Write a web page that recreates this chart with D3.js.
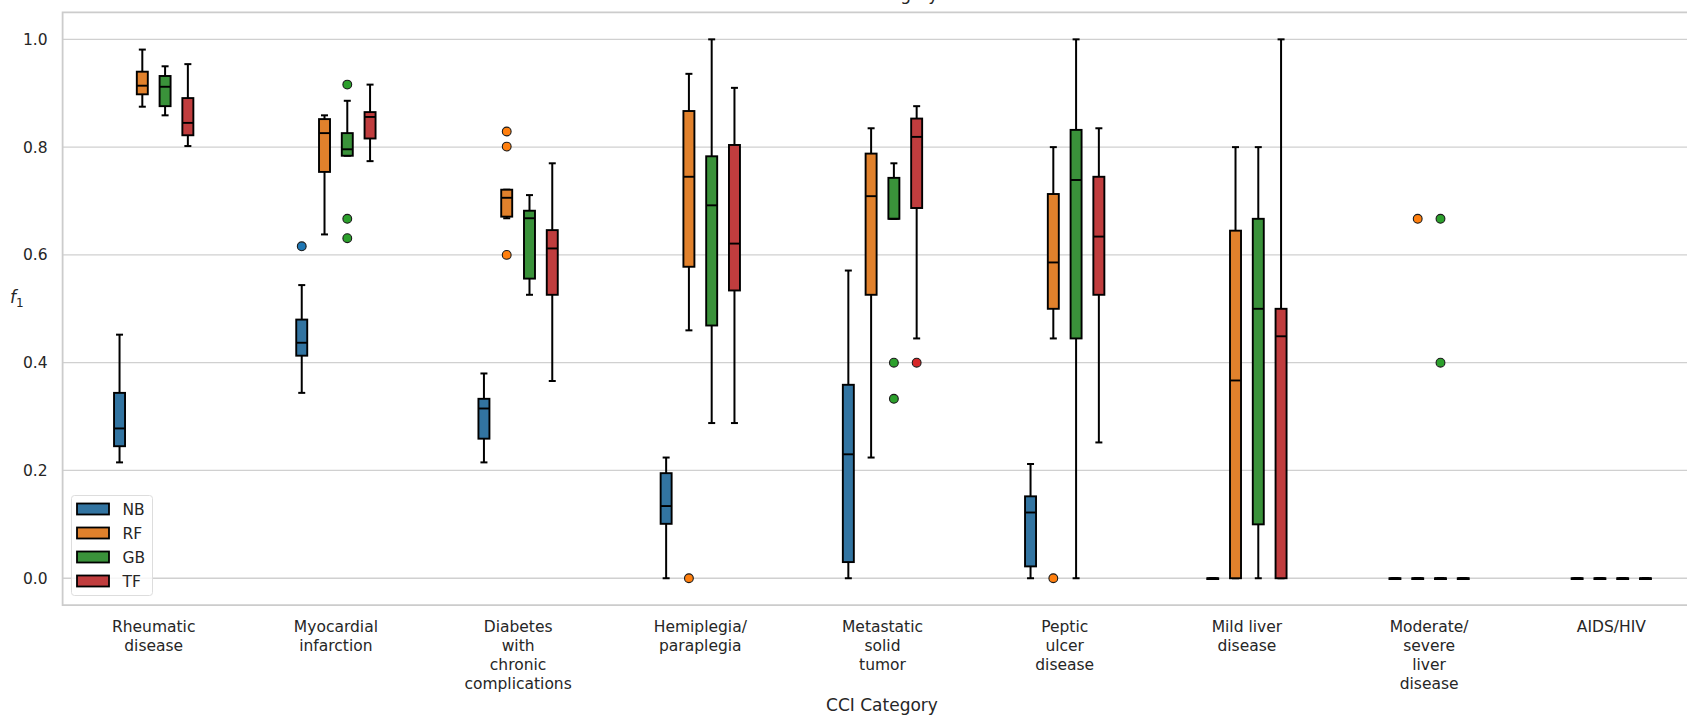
<!DOCTYPE html>
<html>
<head>
<meta charset="utf-8">
<script src="https://cdn.jsdelivr.net/npm/d3@7"></script>
<style>
  body { margin: 0; background: #fff; }
  svg { display: block; font-family: "DejaVu Sans", sans-serif; }
</style>
</head>
<body>
<svg width="1687" height="720"></svg>
<script>
// CCI categories (line breaks as in the original tick labels)
const categories = [
  "Rheumatic\ndisease",
  "Myocardial\ninfarction",
  "Diabetes\nwith\nchronic\ncomplications",
  "Hemiplegia/\nparaplegia",
  "Metastatic\nsolid\ntumor",
  "Peptic\nulcer\ndisease",
  "Mild liver\ndisease",
  "Moderate/\nsevere\nliver\ndisease",
  "AIDS/HIV"
];
const models = ["NB", "RF", "GB", "TF"];
const yTicks = [0.0, 0.2, 0.4, 0.6, 0.8, 1.0];

// box stats per category: [whisker low, q1, median, q3, whisker high]
const nbStats = [
  [0.215, 0.245, 0.278, 0.344, 0.452],
  [0.344, 0.413, 0.437, 0.480, 0.544],
  [0.215, 0.259, 0.315, 0.333, 0.380],
  [0.0, 0.101, 0.134, 0.195, 0.224],
  [0.0, 0.030, 0.230, 0.359, 0.571],
  [0.0, 0.022, 0.122, 0.152, 0.212],
  [0, 0, 0, 0, 0],
  [0, 0, 0, 0, 0],
  [0, 0, 0, 0, 0]
];
const rfStats = [
  [0.875, 0.898, 0.914, 0.940, 0.981],
  [0.638, 0.754, 0.826, 0.852, 0.859],
  [0.668, 0.671, 0.706, 0.721, 0.721],
  [0.460, 0.578, 0.745, 0.867, 0.936],
  [0.224, 0.526, 0.709, 0.788, 0.835],
  [0.445, 0.500, 0.586, 0.713, 0.800],
  [0.0, 0.0, 0.367, 0.645, 0.800],
  [0, 0, 0, 0, 0],
  [0, 0, 0, 0, 0]
];
const gbStats = [
  [0.859, 0.876, 0.912, 0.932, 0.950],
  [0.784, 0.784, 0.796, 0.826, 0.886],
  [0.526, 0.556, 0.668, 0.682, 0.711],
  [0.288, 0.469, 0.692, 0.783, 1.0],
  [0.667, 0.667, 0.667, 0.743, 0.770],
  [0.0, 0.445, 0.739, 0.832, 1.0],
  [0.0, 0.100, 0.500, 0.667, 0.800],
  [0, 0, 0, 0, 0],
  [0, 0, 0, 0, 0]
];
const tfStats = [
  [0.802, 0.822, 0.845, 0.891, 0.954],
  [0.774, 0.816, 0.856, 0.865, 0.916],
  [0.366, 0.526, 0.612, 0.646, 0.770],
  [0.288, 0.534, 0.621, 0.804, 0.910],
  [0.445, 0.687, 0.819, 0.853, 0.876],
  [0.252, 0.526, 0.634, 0.745, 0.835],
  [0.0, 0.0, 0.449, 0.500, 1.0],
  [0, 0, 0, 0, 0],
  [0, 0, 0, 0, 0]
];

// outliers: [category index, value]
const nbFliers = [[1, 0.616]];
const rfFliers = [[2, 0.829], [2, 0.801], [2, 0.600], [3, 0.0], [5, 0.0], [7, 0.667]];
const gbFliers = [[1, 0.916], [1, 0.667], [1, 0.631], [4, 0.4], [4, 0.333], [7, 0.667], [7, 0.4]];
const tfFliers = [[4, 0.4]];

const boxColors = ["#3274a1", "#e1812c", "#3a923a", "#c03d3e"];
const flierColors = ["#1f77b4", "#ff7f0e", "#2ca02c", "#d62728"];
const allStats = [nbStats, rfStats, gbStats, tfStats];
const allFliers = [nbFliers, rfFliers, gbFliers, tfFliers];

let svg = d3.select("svg");

// axes extend past the right edge of the picture (cropped figure)
let x = d3.scaleBand()
  .domain(categories)
  .range([62.6, 1702.4])
  .padding(0);

let y = d3.scaleLinear()
  .domain([-0.05, 1.05])
  .range([605.2, 12.4]);

let slot = x.bandwidth() * 0.125;
let boxW = 11;
let capW = 7;
let plotLeft = 62.6, plotRight = 1702.4;

// grid
svg.append("g")
  .selectAll("line")
  .data(yTicks)
  .enter().append("line")
  .attr("x1", plotLeft).attr("x2", plotRight)
  .attr("y1", d => y(d)).attr("y2", d => y(d))
  .attr("stroke", "#d0d0d0")
  .attr("stroke-width", 1.3);

// spines
let spine = svg.append("g").attr("stroke", "#cccccc").attr("stroke-width", 1.8).attr("fill", "none");
spine.append("path")
  .attr("d", `M${plotRight},${y(1.05)}H${plotLeft}V${y(-0.05)}H${plotRight}`);

// title (mostly cropped at top, as in the source figure)
svg.append("text")
  .attr("x", (plotLeft + plotRight) / 2)
  .attr("y", -0.5)
  .attr("text-anchor", "middle")
  .attr("font-size", 17)
  .attr("fill", "#262626")
  .text("CCI Category");

// y axis
let yAxis = svg.append("g")
  .attr("transform", `translate(${plotLeft},0)`)
  .call(d3.axisLeft(y).tickValues(yTicks).tickFormat(d3.format(".1f")).tickSize(0).tickPadding(15));
yAxis.select(".domain").remove();
yAxis.selectAll("text")
  .attr("font-size", 15.5)
  .attr("font-family", "DejaVu Sans")
  .attr("fill", "#262626");

// x axis with multi-line labels
let xAxis = svg.append("g")
  .attr("transform", `translate(0,${y(-0.05)})`)
  .call(d3.axisBottom(x).tickSize(0).tickFormat(""));
xAxis.select(".domain").remove();
xAxis.selectAll(".tick").each(function (d) {
  let t = d3.select(this).append("text")
    .attr("fill", "#262626")
    .attr("font-size", 15.5)
    .attr("font-family", "DejaVu Sans")
    .attr("text-anchor", "middle");
  d.split("\n").forEach((line, i) => {
    t.append("tspan").attr("x", 0).attr("y", 27 + i * 19).text(line);
  });
});

svg.append("text")
  .attr("x", 882)
  .attr("y", 711)
  .attr("text-anchor", "middle")
  .attr("font-size", 17)
  .attr("fill", "#262626")
  .text("CCI Category");

// y label: italic f with subscript 1
let yl = svg.append("text")
  .attr("x", 10)
  .attr("y", 303)
  .attr("font-size", 17)
  .attr("fill", "#262626");
yl.append("tspan").attr("font-style", "italic").text("f");
yl.append("tspan").attr("font-size", 12).attr("dy", 4).text("1");

// boxes
models.forEach((m, mi) => {
  let g = svg.append("g").attr("class", "model-" + m);
  let cx = (ci) => x(categories[ci]) + x.bandwidth() / 2 + (mi - 1.5) * slot;
  let stats = allStats[mi].map((s, ci) => ({ ci, s }));

  // whiskers
  g.selectAll(".whisk-lo").data(stats).enter().append("line")
    .attr("x1", d => cx(d.ci)).attr("x2", d => cx(d.ci))
    .attr("y1", d => y(d.s[0])).attr("y2", d => y(d.s[1]))
    .attr("stroke", "#000").attr("stroke-width", 2);
  g.selectAll(".whisk-hi").data(stats).enter().append("line")
    .attr("x1", d => cx(d.ci)).attr("x2", d => cx(d.ci))
    .attr("y1", d => y(d.s[3])).attr("y2", d => y(d.s[4]))
    .attr("stroke", "#000").attr("stroke-width", 2);
  // caps
  g.selectAll(".cap").data(stats.flatMap(d => [{ ci: d.ci, v: d.s[0] }, { ci: d.ci, v: d.s[4] }]))
    .enter().append("line")
    .attr("x1", d => cx(d.ci) - capW / 2).attr("x2", d => cx(d.ci) + capW / 2)
    .attr("y1", d => y(d.v)).attr("y2", d => y(d.v))
    .attr("stroke", "#000").attr("stroke-width", 2);

  // box
  g.selectAll("rect").data(stats).enter().append("rect")
    .attr("x", d => cx(d.ci) - boxW / 2)
    .attr("width", boxW)
    .attr("y", d => y(d.s[3]))
    .attr("height", d => Math.max(y(d.s[1]) - y(d.s[3]), 0.8))
    .attr("fill", boxColors[mi])
    .attr("stroke", "#000")
    .attr("stroke-width", 1.9);

  // median
  g.selectAll(".median").data(stats).enter().append("line")
    .attr("x1", d => cx(d.ci) - boxW / 2).attr("x2", d => cx(d.ci) + boxW / 2)
    .attr("y1", d => y(d.s[2])).attr("y2", d => y(d.s[2]))
    .attr("stroke", "#000").attr("stroke-width", 1.9);

  // fliers
  g.selectAll("circle").data(allFliers[mi]).enter().append("circle")
    .attr("cx", d => cx(d[0]))
    .attr("cy", d => y(d[1]))
    .attr("r", 4.4)
    .attr("fill", flierColors[mi])
    .attr("stroke", "#1a1a1a")
    .attr("stroke-width", 1.1);
});

// legend
let legend = svg.append("g").attr("transform", "translate(71.5,495.5)");
legend.append("rect")
  .attr("width", 81).attr("height", 100)
  .attr("rx", 3)
  .attr("fill", "#fff").attr("fill-opacity", 0.8)
  .attr("stroke", "#dddddd").attr("stroke-width", 1);
let item = legend.selectAll(".item").data(models).enter().append("g")
  .attr("transform", (d, i) => `translate(0,${13.5 + i * 24})`);
item.append("rect")
  .attr("x", 5.5).attr("y", -5.5)
  .attr("width", 32).attr("height", 11)
  .attr("fill", (d, i) => boxColors[i])
  .attr("stroke", "#000").attr("stroke-width", 1.8);
item.append("text")
  .attr("x", 51).attr("y", 5.5)
  .attr("font-size", 15.5)
  .attr("fill", "#262626")
  .text(d => d);
</script>
</body>
</html>
